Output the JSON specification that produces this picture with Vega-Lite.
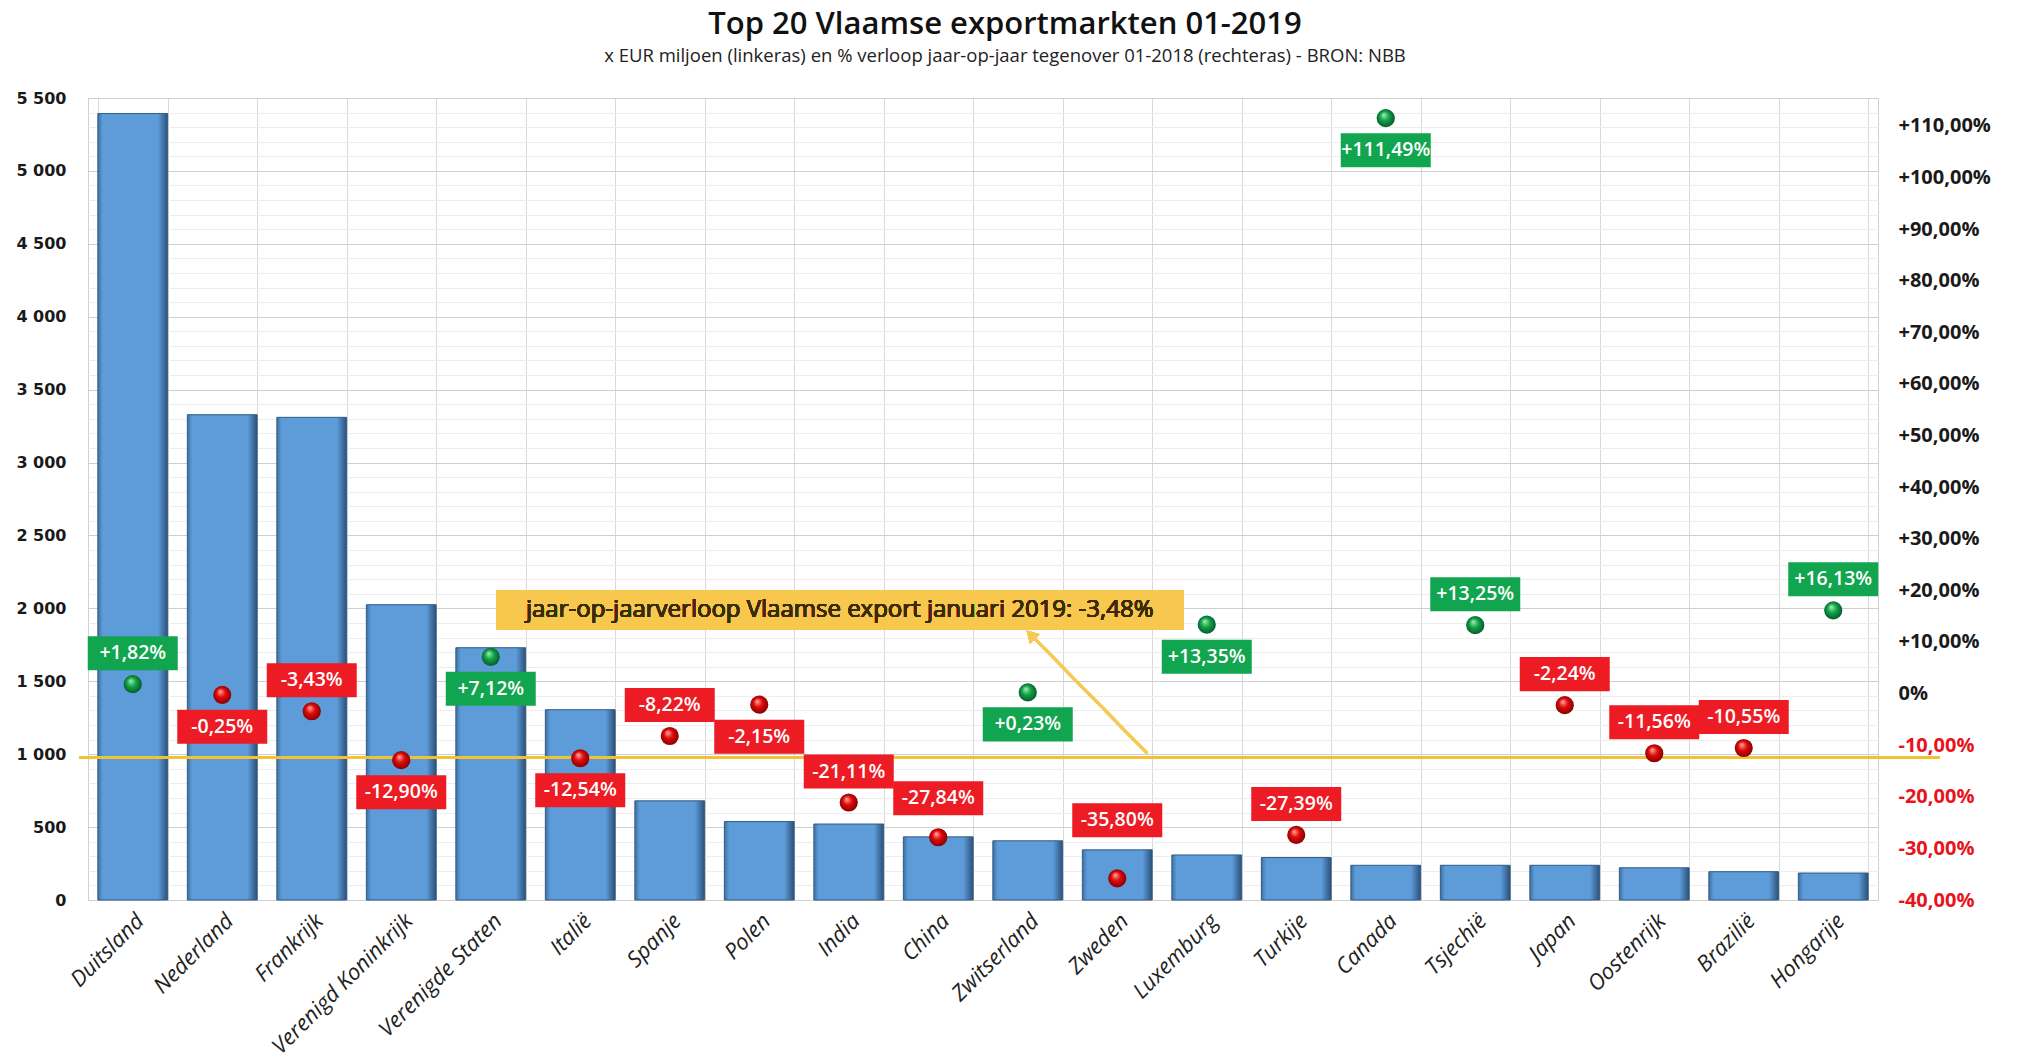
{
  "$schema": "https://vega.github.io/schema/vega-lite/v6.json",
  "width": 1790,
  "height": 802,
  "autosize": {"type": "none"},
  "padding": {"left": 88, "top": 98, "right": 142, "bottom": 162},
  "background": "white",
  "title": {
    "text": "Top 20 Vlaamse exportmarkten 01-2019",
    "subtitle": "x EUR miljoen (linkeras) en % verloop jaar-op-jaar  tegenover 01-2018 (rechteras) - BRON: NBB",
    "anchor": "middle",
    "frame": "group",
    "dx": 22,
    "offset": 24,
    "font": "Open Sans",
    "fontSize": 31,
    "fontWeight": 600,
    "color": "#111111",
    "subtitleFont": "Open Sans",
    "subtitleFontSize": 18.5,
    "subtitleColor": "#222222",
    "subtitlePadding": 6
  },
  "config": {
    "locale": {
      "number": {"decimal": ",", "thousands": " ", "grouping": [3], "currency": ["", "%"], "minus": "-"}
    },
    "view": {"stroke": "#d0d0d0"}
  },
  "data": {
    "values": [
      {"land": "Duitsland", "export": 5394, "pct": 1.82},
      {"land": "Nederland", "export": 3328, "pct": -0.25},
      {"land": "Frankrijk", "export": 3310, "pct": -3.43},
      {"land": "Verenigd Koninkrijk", "export": 2025, "pct": -12.90},
      {"land": "Verenigde Staten", "export": 1730, "pct": 7.12},
      {"land": "Italië", "export": 1305, "pct": -12.54},
      {"land": "Spanje", "export": 680, "pct": -8.22},
      {"land": "Polen", "export": 538, "pct": -2.15},
      {"land": "India", "export": 521, "pct": -21.11},
      {"land": "China", "export": 433, "pct": -27.84},
      {"land": "Zwitserland", "export": 406, "pct": 0.23},
      {"land": "Zweden", "export": 344, "pct": -35.80},
      {"land": "Luxemburg", "export": 309, "pct": 13.35},
      {"land": "Turkije", "export": 291, "pct": -27.39},
      {"land": "Canada", "export": 238, "pct": 111.49},
      {"land": "Tsjechië", "export": 238, "pct": 13.25},
      {"land": "Japan", "export": 238, "pct": -2.24},
      {"land": "Oostenrijk", "export": 221, "pct": -11.56},
      {"land": "Brazilië", "export": 194, "pct": -10.55},
      {"land": "Hongarije", "export": 185, "pct": 16.13}
    ]
  },
  "layer": [
    {
      "mark": {
        "type": "bar",
        "fill": {"gradient": "linear", "x1": 0, "y1": 0, "x2": 1, "y2": 0,
          "stops": [
            {"offset": 0, "color": "#3f70a0"},
            {"offset": 0.07, "color": "#5e9cd9"},
            {"offset": 0.86, "color": "#5e9cd9"},
            {"offset": 1, "color": "#2b5078"}
          ]},
        "stroke": "#2f5a85",
        "strokeWidth": 1
      },
      "encoding": {
        "x": {
          "field": "land", "type": "nominal", "sort": null,
          "scale": {
            "domain": ["Duitsland", "Nederland", "Frankrijk", "Verenigd Koninkrijk", "Verenigde Staten", "Italië", "Spanje", "Polen", "India", "China", "Zwitserland", "Zweden", "Luxemburg", "Turkije", "Canada", "Tsjechië", "Japan", "Oostenrijk", "Brazilië", "Hongarije"],
            "paddingInner": 0.22, "paddingOuter": 0.11
          },
          "axis": {
            "title": null, "labelAngle": -45, "labelFont": "Open Sans", "labelFontStyle": "italic",
            "labelFontSize": 22, "labelColor": "#222222", "ticks": false, "domain": false, "labelLimit": 400,
            "grid": true, "gridColor": "#d9d9d9", "tickBand": "extent", "labelPadding": 10
          }
        },
        "y": {
          "field": "export", "type": "quantitative",
          "scale": {"domain": [0, 5500], "nice": false},
          "axis": {
            "title": null,
            "values": [0,100,200,300,400,500,600,700,800,900,1000,1100,1200,1300,1400,1500,1600,1700,1800,1900,2000,2100,2200,2300,2400,2500,2600,2700,2800,2900,3000,3100,3200,3300,3400,3500,3600,3700,3800,3900,4000,4100,4200,4300,4400,4500,4600,4700,4800,4900,5000,5100,5200,5300,5400,5500],
            "format": ",d",
            "labelExpr": "datum.value % 500 === 0 ? datum.label : ''",
            "gridColor": {"condition": {"test": "datum.value % 500 === 0", "value": "#cfcfcf"}, "value": "#ededed"},
            "ticks": false, "domain": false, "labelOverlap": false, "labelFlush": false,
            "labelFont": "DejaVu Sans", "labelFontWeight": "bold", "labelFontSize": 16,
            "labelPadding": 22, "labelColor": "#1a1a1a"
          }
        }
      }
    },
    {
      "layer": [
        {
          "mark": {"type": "rule", "color": "#f2c232", "strokeWidth": 3, "xOffset": -53, "x2Offset": 106},
          "encoding": {
            "x": {"datum": "Duitsland", "type": "nominal"},
            "x2": {"datum": "Hongarije"},
            "y": {"datum": -12.4, "type": "quantitative"}
          }
        },
        {
          "mark": {"type": "point", "shape": "M-1,-0.0582H1V0.0582H-1Z", "size": 471969, "filled": true, "color": "#f8c84e", "opacity": 1, "xOffset": -9},
          "encoding": {
            "x": {"datum": "India", "type": "nominal"},
            "y": {"datum": 16.2, "type": "quantitative"}
          }
        },
        {
          "mark": {"type": "text", "text": "jaar-op-jaarverloop Vlaamse export januari 2019: -3,48%", "font": "Open Sans", "fontSize": 24, "fontWeight": 500, "color": "#3a2c06", "xOffset": -9, "baseline": "middle", "align": "center"},
          "encoding": {
            "x": {"datum": "India", "type": "nominal"},
            "y": {"datum": 16.2, "type": "quantitative"}
          }
        },
        {
          "mark": {"type": "rule", "color": "#f5cb55", "strokeWidth": 2.5, "xOffset": 30, "x2Offset": 3},
          "encoding": {
            "x": {"datum": "Zweden", "type": "nominal"},
            "x2": {"datum": "Zwitserland"},
            "y": {"datum": -11.6, "type": "quantitative"},
            "y2": {"datum": 11.4}
          }
        },
        {
          "mark": {"type": "point", "shape": "triangle-up", "size": 180, "filled": true, "color": "#f5cb55", "opacity": 1, "angle": -44, "xOffset": 3},
          "encoding": {
            "x": {"datum": "Zwitserland", "type": "nominal"},
            "y": {"datum": 11.4, "type": "quantitative"}
          }
        },
        {
          "transform": [{"filter": "datum.pct >= 0"}],
          "mark": {"type": "point", "shape": "circle", "size": 330, "filled": true, "opacity": 1, "strokeWidth": 0,
            "fill": {"gradient": "radial", "x1": 0.38, "y1": 0.3, "r1": 0, "x2": 0.5, "y2": 0.5, "r2": 0.55,
              "stops": [{"offset": 0, "color": "#a8f0c0"}, {"offset": 0.45, "color": "#13a545"}, {"offset": 1, "color": "#04502a"}]}},
          "encoding": {
            "x": {"field": "land", "type": "nominal", "sort": null},
            "y": {
              "field": "pct", "type": "quantitative",
              "scale": {"domain": [-40, 115.4], "nice": false},
              "axis": {
                "orient": "right", "title": null,
                "values": [-40,-30,-20,-10,0,10,20,30,40,50,60,70,80,90,100,110],
                "format": "+$.2f",
                "labelExpr": "datum.value === 0 ? '0%' : datum.label",
                "grid": false, "ticks": false, "domain": false, "labelOverlap": false, "labelFlush": false,
                "labelFont": "Open Sans", "labelFontWeight": "bold", "labelFontSize": 20, "labelPadding": 20,
                "labelColor": {"condition": {"test": "datum.value < 0", "value": "#e8141c"}, "value": "#1a1a1a"}
              }
            }
          }
        },
        {
          "transform": [{"filter": "datum.pct < 0"}],
          "mark": {"type": "point", "shape": "circle", "size": 330, "filled": true, "opacity": 1, "strokeWidth": 0,
            "fill": {"gradient": "radial", "x1": 0.38, "y1": 0.3, "r1": 0, "x2": 0.5, "y2": 0.5, "r2": 0.55,
              "stops": [{"offset": 0, "color": "#ffb0a8"}, {"offset": 0.45, "color": "#e20a0a"}, {"offset": 1, "color": "#7a0000"}]}},
          "encoding": {
            "x": {"field": "land", "type": "nominal", "sort": null},
            "y": {"field": "pct", "type": "quantitative"}
          }
        },
        {
          "transform": [{"filter": {"field": "land", "oneOf": ["Duitsland", "Frankrijk", "Spanje", "India", "Turkije", "Tsjechië", "Japan", "Oostenrijk", "Brazilië", "Hongarije"]}}],
          "layer": [
            {
              "mark": {"type": "point", "shape": "M-1,-0.378H1V0.378H-1Z", "size": 8100, "filled": true, "opacity": 1, "strokeWidth": 0, "yOffset": -31},
              "encoding": {
                "x": {"field": "land", "type": "nominal", "sort": null},
                "y": {"field": "pct", "type": "quantitative"},
                "color": {"condition": {"test": "datum.pct >= 0", "value": "#12a550"}, "value": "#ed1c24"}
              }
            },
            {
              "mark": {"type": "text", "font": "Open Sans", "fontSize": 19.5, "fontWeight": 600, "color": "white", "baseline": "middle", "align": "center", "yOffset": -31},
              "encoding": {
                "x": {"field": "land", "type": "nominal", "sort": null},
                "y": {"field": "pct", "type": "quantitative"},
                "text": {"field": "pct", "type": "quantitative", "format": "+$.2f"}
              }
            }
          ]
        },
        {
          "transform": [{"filter": {"field": "land", "oneOf": ["China"]}}],
          "layer": [
            {
              "mark": {"type": "point", "shape": "M-1,-0.378H1V0.378H-1Z", "size": 8100, "filled": true, "opacity": 1, "strokeWidth": 0, "yOffset": -39, "color": "#ed1c24"},
              "encoding": {
                "x": {"field": "land", "type": "nominal", "sort": null},
                "y": {"field": "pct", "type": "quantitative"}
              }
            },
            {
              "mark": {"type": "text", "font": "Open Sans", "fontSize": 19.5, "fontWeight": 600, "color": "white", "baseline": "middle", "align": "center", "yOffset": -39},
              "encoding": {
                "x": {"field": "land", "type": "nominal", "sort": null},
                "y": {"field": "pct", "type": "quantitative"},
                "text": {"field": "pct", "type": "quantitative", "format": "+$.2f"}
              }
            }
          ]
        },
        {
          "transform": [{"filter": {"field": "land", "oneOf": ["Zweden"]}}],
          "layer": [
            {
              "mark": {"type": "point", "shape": "M-1,-0.378H1V0.378H-1Z", "size": 8100, "filled": true, "opacity": 1, "strokeWidth": 0, "yOffset": -58, "color": "#ed1c24"},
              "encoding": {
                "x": {"field": "land", "type": "nominal", "sort": null},
                "y": {"field": "pct", "type": "quantitative"}
              }
            },
            {
              "mark": {"type": "text", "font": "Open Sans", "fontSize": 19.5, "fontWeight": 600, "color": "white", "baseline": "middle", "align": "center", "yOffset": -58},
              "encoding": {
                "x": {"field": "land", "type": "nominal", "sort": null},
                "y": {"field": "pct", "type": "quantitative"},
                "text": {"field": "pct", "type": "quantitative", "format": "+$.2f"}
              }
            }
          ]
        },
        {
          "transform": [{"filter": {"field": "land", "oneOf": ["Nederland", "Verenigd Koninkrijk", "Verenigde Staten", "Italië", "Polen", "Zwitserland", "Luxemburg", "Canada"]}}],
          "layer": [
            {
              "mark": {"type": "point", "shape": "M-1,-0.378H1V0.378H-1Z", "size": 8100, "filled": true, "opacity": 1, "strokeWidth": 0, "yOffset": 32},
              "encoding": {
                "x": {"field": "land", "type": "nominal", "sort": null},
                "y": {"field": "pct", "type": "quantitative"},
                "color": {"condition": {"test": "datum.pct >= 0", "value": "#12a550"}, "value": "#ed1c24"}
              }
            },
            {
              "mark": {"type": "text", "font": "Open Sans", "fontSize": 19.5, "fontWeight": 600, "color": "white", "baseline": "middle", "align": "center", "yOffset": 32},
              "encoding": {
                "x": {"field": "land", "type": "nominal", "sort": null},
                "y": {"field": "pct", "type": "quantitative"},
                "text": {"field": "pct", "type": "quantitative", "format": "+$.2f"}
              }
            }
          ]
        }
      ]
    }
  ],
  "resolve": {"scale": {"y": "independent"}, "axis": {"y": "independent"}}
}
